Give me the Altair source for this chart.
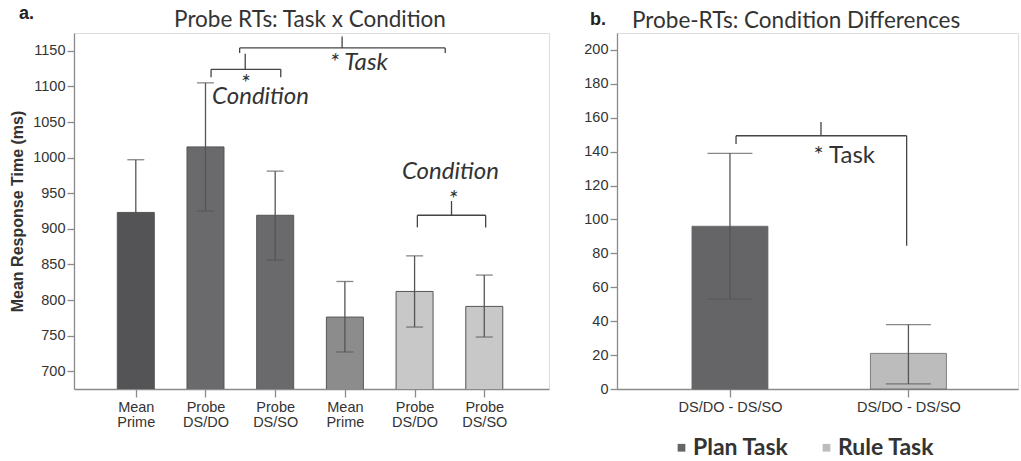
import json
import altair as alt
import pandas as pd

# ---------------- data: panel a ----------------
a_pos = [1, 2, 3, 4, 5, 6]
a_labels = ["Mean Prime", "Probe DS/DO", "Probe DS/SO", "Mean Prime", "Probe DS/DO", "Probe DS/SO"]
a_task = ["Plan", "Plan", "Plan", "Rule", "Rule", "Rule"]
a_mean = [923, 1015, 919, 776, 812, 791]
a_lo = [850, 925, 856, 727, 762, 748]
a_hi = [997, 1105, 981, 826, 862, 835]
a_fill = ["#545456", "#6a6a6c", "#6a6a6c", "#8c8c8c", "#c8c8c8", "#c8c8c8"]
a_ticks = [700, 750, 800, 850, 900, 950, 1000, 1050, 1100, 1150]

# bracket segments (x, x2, y, y2) in data units
a_br_x = [2.49, 2.49, 5.44, 3.96, 2.08, 2.08, 3.08, 2.57, 5.04, 5.04, 6.02, 5.53]
a_br_x2 = [5.44, 2.49, 5.44, 3.96, 3.08, 2.08, 3.08, 2.57, 6.02, 5.04, 6.02, 5.53]
a_br_y = [1154, 1154, 1154, 1154, 1124, 1124, 1124, 1124, 919, 919, 919, 919]
a_br_y2 = [1154, 1147, 1147, 1170, 1124, 1113, 1113, 1146, 919, 902, 902, 939]

a_txt = ["* Task", "*", "Condition", "Condition", "*"]
a_txt_x = [4.2, 2.57, 2.79, 5.515, 5.55]
a_txt_y = [1133, 1104, 1085, 980, 940]

# ---------------- data: panel b ----------------
b_pos = [1, 2]
b_labels = ["DS/DO - DS/SO", "DS/DO - DS/SO"]
b_task = ["Plan Task", "Rule Task"]
b_mean = [96, 21]
b_lo = [53, 3]
b_hi = [139, 38]
b_colors = ["#656567", "#bcbcbc"]
b_ticks = [0, 20, 40, 60, 80, 100, 120, 140, 160, 180, 200]

b_br_x = [1.034, 1.034, 1.99, 1.51]
b_br_x2 = [1.99, 1.034, 1.99, 1.51]
b_br_y = [149.4, 149.4, 149.4, 149.4]
b_br_y2 = [149.4, 144.5, 84.5, 157.5]

b_txt = ["* Task"]
b_txt_x = [1.64]
b_txt_y = [137.5]

titles = ["Probe RTs: Task x Condition", "Probe-RTs: Condition Differences"]
panel_tags = ["a.", "b."]

AX = "#8a8a8a"
TXT = "#333333"
ERR = "#555555"
ANN = 24


def y_axis(vals, title=None):
    kw = dict(values=vals, tickCount=len(vals), grid=False, tickSize=7, labelPadding=2,
              format="d", labelFont="Liberation Sans", labelFontSize=14.5, labelColor=TXT,
              labelOverlap=False, domainColor=AX, tickColor=AX, domainWidth=1.3,
              tickWidth=1.3)
    if title:
        kw.update(title=title, titleFont="Liberation Sans", titleFontSize=16,
                  titleFontWeight="bold", titleColor=TXT, titlePadding=7)
    else:
        kw.update(title=None)
    return alt.Axis(**kw)


def x_axis(vals, expr):
    return alt.Axis(values=vals, labelExpr=expr, title=None, grid=False, tickSize=8,
                    labelPadding=3, labelFontSize=14.5, labelLineHeight=15,
                    labelFont="Liberation Sans", labelColor=TXT, labelOverlap=False,
                    domainColor=AX, tickColor=AX, domainWidth=1.3, tickWidth=1.3)


def header(text, tag, tx, ty, align, tagx, tagy):
    t = alt.Chart(pd.DataFrame({"t": [text]})).mark_text(
        font="Lato", fontSize=22.5, color=TXT, align=align, baseline="middle").encode(
        x=alt.value(tx), y=alt.value(ty), text="t:N")
    g = alt.Chart(pd.DataFrame({"t": [tag]})).mark_text(
        font="Liberation Sans", fontSize=18, fontWeight="bold", color="#222222",
        align="left", baseline="middle").encode(x=alt.value(tagx), y=alt.value(tagy), text="t:N")
    return t + g


# ---------------- panel a ----------------
da = pd.DataFrame({"pos": a_pos, "label": a_labels, "task": a_task, "mean": a_mean,
                   "lo": a_lo, "hi": a_hi, "fill": a_fill})
a_label_expr = "split(" + json.dumps([""] + a_labels) + "[datum.value], ' ')"

xa_scale = alt.Scale(domain=[0.185, 6.857], nice=False, zero=False)
xa_axis = x_axis(a_pos, a_label_expr)
ya_scale = alt.Scale(domain=[675, 1175], nice=False, zero=False)
ya_axis = y_axis(a_ticks, "Mean Response Time (ms)")


def XA(f):
    return alt.X(f, scale=xa_scale, axis=xa_axis)


def YA(f):
    return alt.Y(f, scale=ya_scale, axis=ya_axis)


bars_a = alt.Chart(da).mark_bar(size=37, clip=True, stroke="#555555", strokeWidth=1).encode(
    x=XA("pos:Q"), y=YA("mean:Q"), fill=alt.Fill("fill:N", scale=None))
err_a = alt.Chart(da).mark_rule(color=ERR, strokeWidth=1.3).encode(
    x=XA("pos:Q"), y=YA("lo:Q"), y2="hi:Q")
caps_a = alt.Chart(da).transform_fold(["lo", "hi"], as_=["k", "v"]).mark_tick(
    orient="horizontal", size=17, thickness=1.3, color=ERR).encode(
    x=XA("pos:Q"), y=YA("v:Q"))

dbr_a = pd.DataFrame({"x": a_br_x, "x2": a_br_x2, "y": a_br_y, "y2": a_br_y2})
br_a = alt.Chart(dbr_a).mark_rule(color="#444444", strokeWidth=1.3).encode(
    x=XA("x:Q"), x2="x2:Q", y=YA("y:Q"), y2="y2:Q")
dtx_a = pd.DataFrame({"t": a_txt, "x": a_txt_x, "y": a_txt_y})
tx_a = alt.Chart(dtx_a).mark_text(font="Lato", fontSize=ANN, fontStyle="italic",
                                  color=TXT, baseline="middle").encode(
    x=XA("x:Q"), y=YA("y:Q"), text="t:N")

panel_a = alt.layer(bars_a, err_a, caps_a, br_a, tx_a,
                    header(titles[0], panel_tags[0], 236, -13.5, "center", -55, -19)
                    ).properties(width=475, height=356)

# ---------------- panel b ----------------
db = pd.DataFrame({"pos": b_pos, "label": b_labels, "task": b_task, "mean": b_mean,
                   "lo": b_lo, "hi": b_hi})
b_label_expr = json.dumps([""] + b_labels) + "[datum.value]"
xb_scale = alt.Scale(domain=[0.395, 2.586], nice=False, zero=False)
xb_axis = x_axis(b_pos, b_label_expr)
yb_scale = alt.Scale(domain=[0, 210], nice=False)
yb_axis = y_axis(b_ticks)


def XB(f):
    return alt.X(f, scale=xb_scale, axis=xb_axis)


def YB(f):
    return alt.Y(f, scale=yb_scale, axis=yb_axis)


bars_b = alt.Chart(db).mark_bar(size=76, stroke="#666666", strokeWidth=0.8).encode(
    x=XB("pos:Q"), y=YB("mean:Q"),
    color=alt.Color("task:N", scale=alt.Scale(domain=b_task, range=b_colors),
                    legend=alt.Legend(title=None, orient="none", direction="horizontal",
                                      legendX=596, legendY=403, symbolType="square",
                                      symbolSize=60, symbolStrokeWidth=0,
                                      labelFont="Lato", labelFontSize=23,
                                      labelFontWeight="bold", labelColor=TXT,
                                      columnPadding=26, labelOffset=0)))
err_b = alt.Chart(db).mark_rule(color=ERR, strokeWidth=1.3).encode(
    x=XB("pos:Q"), y=YB("lo:Q"), y2="hi:Q")
caps_b = alt.Chart(db).transform_fold(["lo", "hi"], as_=["k", "v"]).mark_tick(
    orient="horizontal", size=45, thickness=1.3, color=ERR).encode(
    x=XB("pos:Q"), y=YB("v:Q"))
dbr_b = pd.DataFrame({"x": b_br_x, "x2": b_br_x2, "y": b_br_y, "y2": b_br_y2})
br_b = alt.Chart(dbr_b).mark_rule(color="#444444", strokeWidth=1.3).encode(
    x=XB("x:Q"), x2="x2:Q", y=YB("y:Q"), y2="y2:Q")
dtx_b = pd.DataFrame({"t": b_txt, "x": b_txt_x, "y": b_txt_y})
tx_b = alt.Chart(dtx_b).mark_text(font="Lato", fontSize=ANN, color=TXT,
                                  baseline="middle").encode(
    x=XB("x:Q"), y=YB("y:Q"), text="t:N")

panel_b = alt.layer(bars_b, err_b, caps_b, br_b, tx_b,
                    header(titles[1], panel_tags[1], 15, -12.5, "left", -27, -13)
                    ).properties(width=401, height=356)

chart = alt.hconcat(panel_a, panel_b, spacing=68, bounds="flush").properties(
    padding={"left": 9, "top": 4, "right": 0, "bottom": 0}
).configure_view(stroke=AX, strokeWidth=1.3).configure(background="white")

chart.save("out.html", embed_options={"renderer": "svg", "actions": False})
